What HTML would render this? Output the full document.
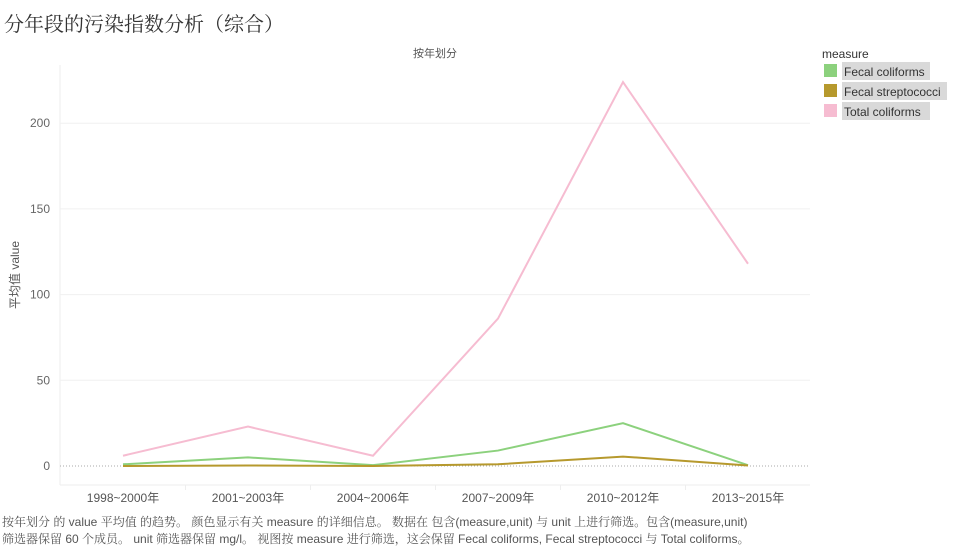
<!DOCTYPE html>
<html><head><meta charset="utf-8"><style>
body{margin:0;background:#fff;width:961px;height:549px;overflow:hidden;font-family:"Liberation Sans","Noto Sans CJK SC",sans-serif;}
#title{position:absolute;left:4px;top:8px;font-size:20px;color:#333;font-family:"Liberation Serif","Noto Serif CJK SC",serif;}
#foot{position:absolute;left:2px;top:514px;font-size:12px;color:#555;line-height:17px;font-family:"Liberation Sans","Noto Serif CJK SC",sans-serif;}
</style></head><body>
<div id="title">分年段的污染指数分析（综合）</div>
<svg id="c" width="961" height="549" style="position:absolute;left:0;top:0"></svg>
<div id="foot">按年划分 的 value 平均值 的趋势。 颜色显示有关 measure 的详细信息。 数据在 包含(measure,unit) 与 unit 上进行筛选。包含(measure,unit)<br>筛选器保留 60 个成员。 unit 筛选器保留 mg/l。 视图按 measure 进行筛选，这会保留 Fecal coliforms, Fecal streptococci 与 Total coliforms。</div>
<script>
const categories=["1998~2000年","2001~2003年","2004~2006年","2007~2009年","2010~2012年","2013~2015年"];
const seriesNames=["Fecal coliforms","Fecal streptococci","Total coliforms"];
const fecalColiforms=[1,5,0.5,9,25,0.5];
const fecalStrep=[0,0.3,0,1,5.5,0.3];
const totalColiforms=[6,23,6,86,224,118];
const yTicks=[0,50,100,150,200];
const colors=["#8cd17d","#b6992d","#f6bcd1"];
const NS="http://www.w3.org/2000/svg";
const svg=document.getElementById('c');
function mk(t,a,p){const e=document.createElementNS(NS,t);for(const k in a)e.setAttribute(k,a[k]);(p||svg).appendChild(e);return e;}
const x=i=>123+i*125;
const y=v=>466-v*1.714;
// plot frame
mk('line',{x1:60,y1:65,x2:60,y2:485,stroke:'#eee'});
mk('line',{x1:60,y1:485,x2:810,y2:485,stroke:'#eee'});
yTicks.forEach(t=>{
  if(t>0){const g=mk('line',{x1:60,x2:810,y1:y(t),y2:y(t),stroke:'#f0f0f0'});
  }
  const tx=mk('text',{x:50,y:y(t)+4,'text-anchor':'end','font-size':12,fill:'#666'});tx.textContent=t;
  
});
mk('line',{x1:60,x2:810,y1:y(0),y2:y(0),stroke:'#aaa','stroke-dasharray':'1,2'});
categories.forEach((c,i)=>{
  const tx=mk('text',{x:x(i),y:502,'text-anchor':'middle','font-size':12,fill:'#555'});tx.textContent=c;
  
  if(i>0){mk('line',{x1:x(i)-62.5,x2:x(i)-62.5,y1:485,y2:490,stroke:'#eee'});}
});
const ht=mk('text',{x:435,y:57,'text-anchor':'middle','font-size':11,fill:'#555'});ht.textContent='按年划分';

const yt=mk('text',{x:0,y:0,'text-anchor':'middle','font-size':12,fill:'#555',transform:'translate(19,275) rotate(-90)'});yt.textContent='平均值 value';

[fecalColiforms,fecalStrep,totalColiforms].forEach((d,s)=>{
  const p=mk('polyline',{points:d.map((v,i)=>x(i)+','+y(v)).join(' '),fill:'none',stroke:colors[s],'stroke-width':2});
  
});
const lt=mk('text',{x:822,y:58,'font-size':12,fill:'#333'});lt.textContent='measure';

seriesNames.forEach((n,i)=>{
  const g=mk('g',{});
  mk('rect',{x:824,y:64+i*20,width:13,height:13,fill:colors[i]},g);
  const w=[88,105,88][i];
  mk('rect',{x:842,y:62+i*20,width:w,height:18,fill:'#d9d9d9'},g);
  const t=mk('text',{x:844,y:76+i*20,'font-size':12,fill:'#333'},g);t.textContent=n;
});
</script>
</body></html>
